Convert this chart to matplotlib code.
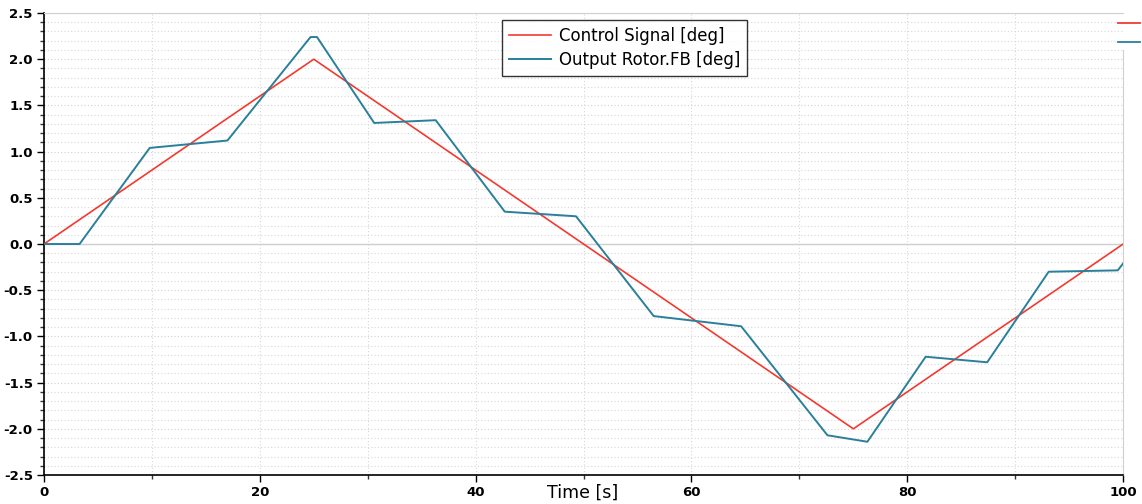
import matplotlib
matplotlib.use('Agg')
import matplotlib.pyplot as plt
from matplotlib.lines import Line2D
from matplotlib.ticker import MultipleLocator

# Data
ctrl_t = [0, 25, 75, 100]
ctrl_deg = [0.0, 2.0, -2.0, 0.0]

fb_t = [0, 3.3, 9.8, 17.0, 24.7, 25.3, 30.6, 36.3, 42.7, 49.3, 56.5, 64.6,
        72.6, 76.3, 81.7, 87.4, 93.1, 99.5, 100]
fb_deg = [0.0, 0.0, 1.04, 1.12, 2.24, 2.24, 1.31, 1.34, 0.35, 0.30, -0.78, -0.89,
          -2.07, -2.14, -1.22, -1.28, -0.30, -0.285, -0.21]

red = '#f23a30'
blue = '#2a7f9b'

fig = plt.figure(figsize=(11.42, 5.04), dpi=100)
ax = fig.add_axes([0.0385, 0.0575, 0.945, 0.9167])

ax.plot(ctrl_t, ctrl_deg, color=red, lw=1.2, label='Control Signal [deg]', zorder=3)
ax.plot(fb_t, fb_deg, color=blue, lw=1.4, label='Output Rotor.FB [deg]', zorder=3)

ax.set_xlim(0, 100)
ax.set_ylim(-2.5, 2.5)
ax.xaxis.set_major_locator(MultipleLocator(20))
ax.xaxis.set_minor_locator(MultipleLocator(10))
ax.yaxis.set_major_locator(MultipleLocator(0.5))
ax.yaxis.set_minor_locator(MultipleLocator(0.1))
ax.set_yticklabels([f'{v:.1f}' for v in ax.get_yticks()])

ax.grid(which='major', axis='y', color='#d0d0d0', ls=(0, (1, 2)), lw=0.8)
ax.grid(which='minor', axis='y', color='#d8d8d8', ls=(0, (1, 2)), lw=0.8)
ax.grid(which='minor', axis='x', color='#d8d8d8', ls=(0, (1, 2)), lw=0.8)
ax.grid(which='major', axis='x', color='#d8d8d8', ls=(0, (1, 2)), lw=0.8)
ax.axhline(0, color='#cfcfcf', lw=1.0, zorder=1)

for lab in ax.get_xticklabels() + ax.get_yticklabels():
    lab.set_fontweight('bold')
    lab.set_fontsize(9.5)
ax.tick_params(which='major', length=5, width=1.0, color='black', pad=3)
ax.tick_params(which='minor', length=3, width=1.0, color='#333333')

ax.spines['left'].set_color('black')
ax.spines['bottom'].set_color('black')
ax.spines['left'].set_linewidth(1.2)
ax.spines['bottom'].set_linewidth(1.2)
ax.spines['top'].set_color('#d0d0d0')
ax.spines['right'].set_color('#d0d0d0')
ax.spines['right'].set_bounds(-2.5, 2.1)

ax.set_xlabel('Time [s]', fontsize=12.5)
ax.xaxis.set_label_coords(0.499, -0.038, transform=ax.transAxes)
ax.xaxis.label.set_va('center')

leg = ax.legend(loc='upper center', bbox_to_anchor=(0.538, 0.985), fontsize=12,
                frameon=True, fancybox=False, handlelength=2.5, borderpad=0.4,
                labelspacing=0.4, handletextpad=0.5, borderaxespad=0)
leg.get_frame().set_edgecolor('black')
leg.get_frame().set_linewidth(1.0)

# clipped legend stubs on the right edge
fig.add_artist(Line2D([1118 / 1142, 1140 / 1142], [1 - 23 / 504, 1 - 23 / 504],
                      color=red, lw=1.3, transform=fig.transFigure))
fig.add_artist(Line2D([1118 / 1142, 1140 / 1142], [1 - 42 / 504, 1 - 42 / 504],
                      color=blue, lw=1.3, transform=fig.transFigure))

fig.savefig('out.png', dpi=100)
